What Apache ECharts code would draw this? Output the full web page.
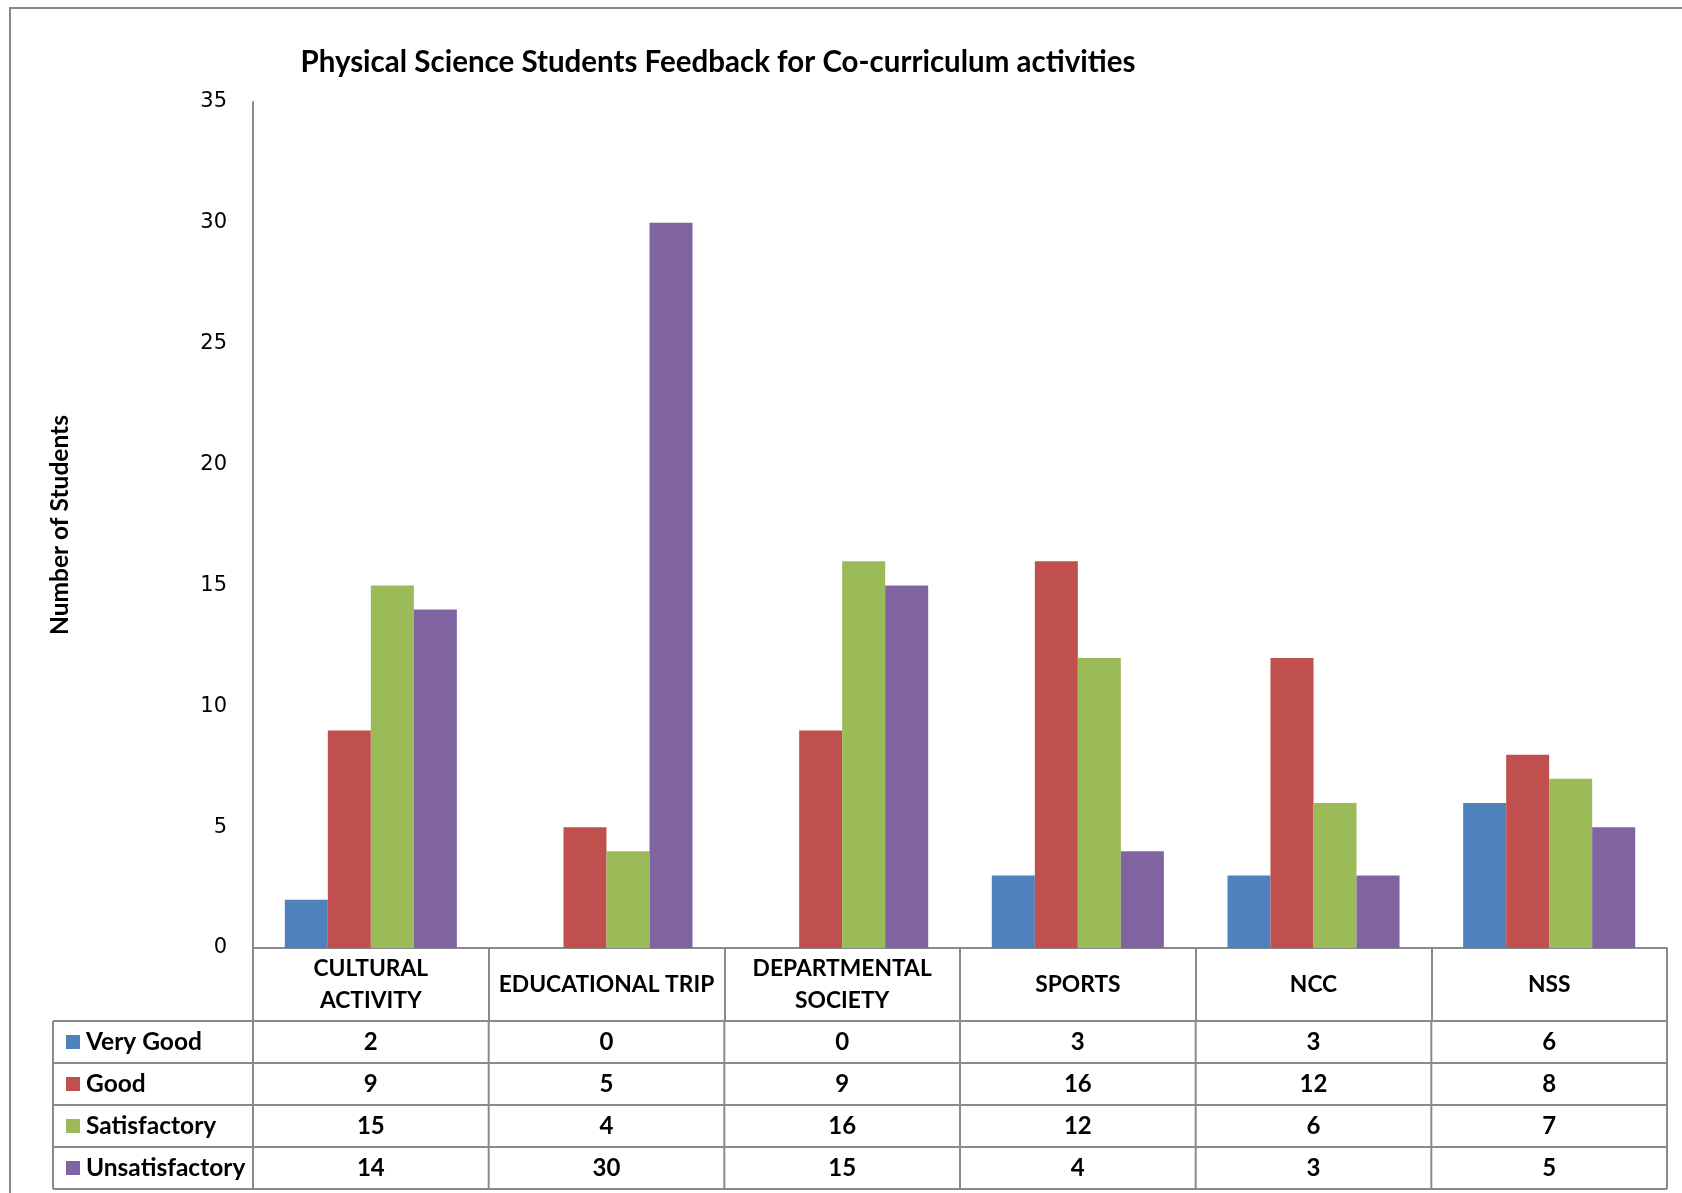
<!DOCTYPE html>
<html>
<head>
<meta charset="utf-8">
<script src="https://cdn.jsdelivr.net/npm/echarts@6/dist/echarts.min.js"></script>
<style>
html,body{margin:0;padding:0;background:#fff;}
#c{width:1682px;height:1193px;}
</style>
</head>
<body>
<div id="c"></div>
<script>
const categories = ['CULTURAL\nACTIVITY', 'EDUCATIONAL TRIP', 'DEPARTMENTAL\nSOCIETY', 'SPORTS', 'NCC', 'NSS'];
const seriesNames = ['Very Good', 'Good', 'Satisfactory', 'Unsatisfactory'];
const veryGood = [2, 0, 0, 3, 3, 6];
const good = [9, 5, 9, 16, 12, 8];
const satisfactory = [15, 4, 16, 12, 6, 7];
const unsatisfactory = [14, 30, 15, 4, 3, 5];
const colors = ['#4F81BD', '#C0504D', '#9BBB59', '#8064A2'];
const yTicks = { min: 0, max: 35, interval: 5 };

const allValues = [veryGood, good, satisfactory, unsatisfactory];
const FONT = 'Lato, "Open Sans", sans-serif';
const GRID = { left: 253, top: 102, right: 15, bottom: 245 };
const ROW_H = 42;
const TABLE_LEFT = 53;
const LINE = '#8a8a8a';

const chart = echarts.init(document.getElementById('c'), null, { renderer: 'canvas' });

const option = {
  animation: false,
  backgroundColor: '#fff',
  title: {
    text: 'Physical Science Students Feedback for Co-curriculum activities',
    left: 713, top: 42, textAlign: 'center',
    textStyle: { fontFamily: FONT, fontWeight: 'bold', fontSize: 29.5, color: '#000' }
  },
  grid: GRID,
  xAxis: {
    type: 'category',
    data: categories,
    axisLine: { lineStyle: { color: LINE, width: 2 } },
    axisTick: { show: true, length: 73, lineStyle: { color: LINE, width: 2 }, interval: 0 },
    axisLabel: {
      interval: 0, margin: 37, verticalAlign: 'middle', lineHeight: 32,
      fontFamily: FONT, fontWeight: 'bold', fontSize: 22.8, color: '#000'
    }
  },
  yAxis: {
    type: 'value', min: yTicks.min, max: yTicks.max, interval: yTicks.interval,
    name: 'Number of Students', nameLocation: 'middle', nameGap: 180,
    nameTextStyle: { fontFamily: FONT, fontWeight: 'bold', fontSize: 24.5, color: '#000' },
    axisLine: { show: true, lineStyle: { color: LINE, width: 2 } },
    axisTick: { show: false },
    splitLine: { show: false },
    axisLabel: { margin: 26, fontFamily: '"DejaVu Sans", sans-serif', fontSize: 21, color: '#000' }
  },
  series: seriesNames.map((n, i) => ({
    name: n, type: 'bar', data: allValues[i],
    itemStyle: { color: colors[i] },
    barGap: '0%', barCategoryGap: '27%'
  }))
};
chart.setOption(option);

function buildTable() {
  const g = [];
  g.push({ type: 'rect', shape: { x: 10, y: 8, width: 1720, height: 1230 },
    style: { fill: null, stroke: '#8a8a8a', lineWidth: 2 }, z: 0 });
  const c0 = chart.convertToPixel({ xAxisIndex: 0 }, 0);
  const c1 = chart.convertToPixel({ xAxisIndex: 0 }, 1);
  const bw = c1 - c0;
  const y0 = chart.convertToPixel({ yAxisIndex: 0 }, 0);
  const tableTop = y0 + 73;
  const right = c0 - bw / 2 + bw * categories.length;
  const leftAxis = c0 - bw / 2;
  for (let r = 0; r <= seriesNames.length; r++) {
    const y = tableTop + r * ROW_H;
    g.push({ type: 'line', shape: { x1: TABLE_LEFT, y1: y, x2: right, y2: y },
      style: { stroke: LINE, lineWidth: 2 }, z: 10 });
  }
  const bottom = tableTop + seriesNames.length * ROW_H;
  const xs = [TABLE_LEFT];
  for (let k = 0; k <= categories.length; k++) xs.push(leftAxis + k * bw);
  xs.forEach(x => g.push({ type: 'line', shape: { x1: x, y1: tableTop, x2: x, y2: bottom },
    style: { stroke: LINE, lineWidth: 2 }, z: 10 }));
  seriesNames.forEach((n, r) => {
    const cy = tableTop + r * ROW_H + ROW_H / 2;
    g.push({ type: 'rect', shape: { x: 66, y: cy - 7, width: 14, height: 14 },
      style: { fill: colors[r] }, z: 10 });
    g.push({ type: 'text', x: 86, y: cy, style: { text: n, fontFamily: FONT, fontWeight: 'bold',
      fontSize: 24.5, fill: '#000', textVerticalAlign: 'middle', textAlign: 'left' }, z: 10 });
    allValues[r].forEach((v, k) => {
      g.push({ type: 'text', x: leftAxis + (k + 0.5) * bw, y: cy, style: { text: String(v),
        fontFamily: FONT, fontWeight: 'bold', fontSize: 24, fill: '#000',
        textVerticalAlign: 'middle', textAlign: 'center' }, z: 10 });
    });
  });
  chart.setOption({ graphic: g });
}
buildTable();
</script>
</body>
</html>
